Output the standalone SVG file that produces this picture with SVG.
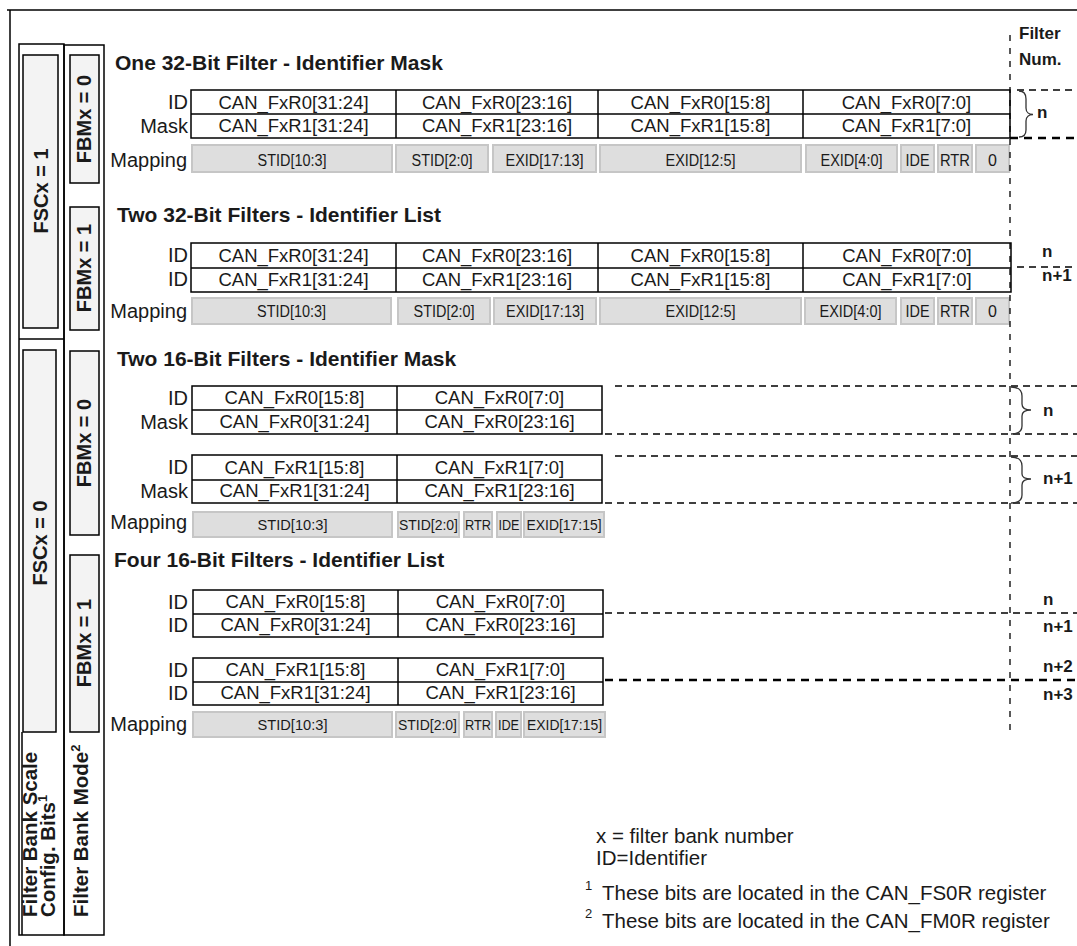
<svg xmlns="http://www.w3.org/2000/svg" width="1077" height="946" viewBox="0 0 1077 946">
<defs>
<style>
text{font-family:"Liberation Sans",Arial,sans-serif;fill:#1a1a1a}
.h{font-size:21px;font-weight:bold}
.lbl{font-size:20px}
.can{font-size:18.5px;text-anchor:middle}
.mc{font-size:16px;text-anchor:middle}
.mc2{font-size:15px;text-anchor:middle}
.num{font-size:17px;font-weight:bold}
.side{font-size:20px;font-weight:bold;text-anchor:middle}
.note{font-size:20.5px}
.sup{font-size:13px}
.frame{fill:none;stroke:#000;stroke-width:1.5}
.box{fill:#f3f3f3;stroke:#000;stroke-width:1.5}
.reg{fill:#fff;stroke:#000;stroke-width:1.5}
.div{stroke:#000;stroke-width:1.5}
.cell{fill:#dedede;stroke:#c6c6c6;stroke-width:2}
.dash{fill:none;stroke:#000;stroke-width:1.3;stroke-dasharray:7 5}
.dashb{fill:none;stroke:#000;stroke-width:2.6;stroke-dasharray:8 6}
.vd{fill:none;stroke:#000;stroke-width:1.3;stroke-dasharray:6 7}
.brace{fill:none;stroke:#333;stroke-width:1.3}
</style>
</defs>

<g id="frame">
<line x1="7" y1="10" x2="1077" y2="10" class="div"/>
<line x1="10" y1="10" x2="10" y2="946" class="div"/>
</g>

<g id="fsc-column">
<rect x="19" y="44" width="45" height="891" class="frame"/>
<rect x="23" y="55" width="35" height="273" class="box"/>
<text class="side" transform="translate(48,191) rotate(-90)">FSCx = 1</text>
<line x1="19" y1="339" x2="64" y2="339" class="div"/>
<rect x="23" y="350" width="33" height="382" class="box"/>
<text class="side" transform="translate(47,543) rotate(-90)">FSCx = 0</text>
<line x1="22" y1="732" x2="22" y2="935" class="div"/>
<text style="font-size:20.5px;font-weight:bold" transform="translate(37,917) rotate(-90)">Filter Bank Scale</text>
<text style="font-size:20.5px;font-weight:bold" transform="translate(55,917) rotate(-90)">Config. Bits<tspan class="sup" dy="-8">1</tspan></text>
</g>

<g id="fbm-column">
<rect x="64" y="45" width="40" height="890" class="frame"/>
<rect x="70" y="55" width="29" height="128" class="box"/>
<text class="side" transform="translate(91,119) rotate(-90)">FBMx = 0</text>
<rect x="70" y="207" width="29" height="123" class="box"/>
<text class="side" transform="translate(91,268) rotate(-90)">FBMx = 1</text>
<rect x="70" y="351" width="29" height="184" class="box"/>
<text class="side" transform="translate(91,443) rotate(-90)">FBMx = 0</text>
<rect x="70" y="555" width="29" height="177" class="box"/>
<text class="side" transform="translate(91,643) rotate(-90)">FBMx = 1</text>
<text style="font-size:20.5px;font-weight:bold" transform="translate(88,917) rotate(-90)">Filter Bank Mode<tspan class="sup" dy="-8">2</tspan></text>
</g>

<g id="filter-num-header">
<text class="num" x="1019" y="39">Filter</text>
<text class="num" x="1019" y="65">Num.</text>
</g>

<g id="sec1">
<text class="h" x="115" y="70">One 32-Bit Filter - Identifier Mask</text>
<text class="lbl" x="188" y="109" text-anchor="end">ID</text>
<text class="lbl" x="188" y="133" text-anchor="end">Mask</text>
<text class="lbl" x="187" y="167" text-anchor="end">Mapping</text>
<rect x="191" y="90" width="819" height="48" class="reg"/>
<line x1="191" y1="114" x2="1010" y2="114" class="div"/>
<line x1="396" y1="90" x2="396" y2="138" class="div"/>
<line x1="598" y1="90" x2="598" y2="138" class="div"/>
<line x1="803" y1="90" x2="803" y2="138" class="div"/>
<text class="can" x="293.5" y="108.5">CAN_FxR0[31:24]</text>
<text class="can" x="497" y="108.5">CAN_FxR0[23:16]</text>
<text class="can" x="700.5" y="108.5">CAN_FxR0[15:8]</text>
<text class="can" x="906.5" y="108.5">CAN_FxR0[7:0]</text>
<text class="can" x="293.5" y="132">CAN_FxR1[31:24]</text>
<text class="can" x="497" y="132">CAN_FxR1[23:16]</text>
<text class="can" x="700.5" y="132">CAN_FxR1[15:8]</text>
<text class="can" x="906.5" y="132">CAN_FxR1[7:0]</text>
<rect x="192" y="145" width="200" height="27" class="cell"/>
<rect x="396" y="145" width="92" height="27" class="cell"/>
<rect x="493" y="145" width="103" height="27" class="cell"/>
<rect x="600" y="145" width="201" height="27" class="cell"/>
<rect x="806" y="145" width="91" height="27" class="cell"/>
<rect x="901" y="145" width="33" height="27" class="cell"/>
<rect x="938" y="145" width="34" height="27" class="cell"/>
<rect x="976" y="145" width="33" height="27" class="cell"/>
<text class="mc" x="292" y="166" textLength="69" lengthAdjust="spacingAndGlyphs">STID[10:3]</text>
<text class="mc" x="442" y="166" textLength="61" lengthAdjust="spacingAndGlyphs">STID[2:0]</text>
<text class="mc" x="544.5" y="166" textLength="78" lengthAdjust="spacingAndGlyphs">EXID[17:13]</text>
<text class="mc" x="700.5" y="166" textLength="70" lengthAdjust="spacingAndGlyphs">EXID[12:5]</text>
<text class="mc" x="851.5" y="166" textLength="62" lengthAdjust="spacingAndGlyphs">EXID[4:0]</text>
<text class="mc" x="917.5" y="166" textLength="24" lengthAdjust="spacingAndGlyphs">IDE</text>
<text class="mc" x="955" y="166" textLength="30" lengthAdjust="spacingAndGlyphs">RTR</text>
<text class="mc" x="992.5" y="166">0</text>
</g>

<g id="sec2">
<text class="h" x="117" y="222">Two 32-Bit Filters - Identifier List</text>
<text class="lbl" x="188" y="262" text-anchor="end">ID</text>
<text class="lbl" x="188" y="286" text-anchor="end">ID</text>
<text class="lbl" x="187" y="318" text-anchor="end">Mapping</text>
<rect x="191" y="243" width="820" height="49" class="reg"/>
<line x1="191" y1="268" x2="1011" y2="268" class="div"/>
<line x1="396" y1="243" x2="396" y2="292" class="div"/>
<line x1="598" y1="243" x2="598" y2="292" class="div"/>
<line x1="803" y1="243" x2="803" y2="292" class="div"/>
<text class="can" x="293.5" y="262">CAN_FxR0[31:24]</text>
<text class="can" x="497" y="262">CAN_FxR0[23:16]</text>
<text class="can" x="700.5" y="262">CAN_FxR0[15:8]</text>
<text class="can" x="907" y="262">CAN_FxR0[7:0]</text>
<text class="can" x="293.5" y="286">CAN_FxR1[31:24]</text>
<text class="can" x="497" y="286">CAN_FxR1[23:16]</text>
<text class="can" x="700.5" y="286">CAN_FxR1[15:8]</text>
<text class="can" x="907" y="286">CAN_FxR1[7:0]</text>
<rect x="192" y="298" width="199" height="26" class="cell"/>
<rect x="398" y="298" width="92" height="26" class="cell"/>
<rect x="494" y="298" width="102" height="26" class="cell"/>
<rect x="600" y="298" width="201" height="26" class="cell"/>
<rect x="805" y="298" width="91" height="26" class="cell"/>
<rect x="901" y="298" width="33" height="26" class="cell"/>
<rect x="938" y="298" width="34" height="26" class="cell"/>
<rect x="976" y="298" width="33" height="26" class="cell"/>
<text class="mc" x="291.5" y="317" textLength="69" lengthAdjust="spacingAndGlyphs">STID[10:3]</text>
<text class="mc" x="444" y="317" textLength="61" lengthAdjust="spacingAndGlyphs">STID[2:0]</text>
<text class="mc" x="545" y="317" textLength="78" lengthAdjust="spacingAndGlyphs">EXID[17:13]</text>
<text class="mc" x="700.5" y="317" textLength="70" lengthAdjust="spacingAndGlyphs">EXID[12:5]</text>
<text class="mc" x="850.5" y="317" textLength="62" lengthAdjust="spacingAndGlyphs">EXID[4:0]</text>
<text class="mc" x="917.5" y="317" textLength="24" lengthAdjust="spacingAndGlyphs">IDE</text>
<text class="mc" x="955" y="317" textLength="30" lengthAdjust="spacingAndGlyphs">RTR</text>
<text class="mc" x="992.5" y="317">0</text>
</g>

<g id="sec3">
<text class="h" x="117" y="366">Two 16-Bit Filters - Identifier Mask</text>
<text class="lbl" x="188" y="405" text-anchor="end">ID</text>
<text class="lbl" x="188" y="429" text-anchor="end">Mask</text>
<text class="lbl" x="188" y="474" text-anchor="end">ID</text>
<text class="lbl" x="188" y="498" text-anchor="end">Mask</text>
<text class="lbl" x="187" y="529" text-anchor="end">Mapping</text>
<rect x="192" y="386" width="410" height="48" class="reg"/>
<line x1="192" y1="410" x2="602" y2="410" class="div"/>
<line x1="397" y1="386" x2="397" y2="434" class="div"/>
<text class="can" x="294.5" y="404">CAN_FxR0[15:8]</text>
<text class="can" x="499.5" y="404">CAN_FxR0[7:0]</text>
<text class="can" x="294.5" y="428">CAN_FxR0[31:24]</text>
<text class="can" x="499.5" y="428">CAN_FxR0[23:16]</text>
<rect x="192" y="455" width="410" height="48" class="reg"/>
<line x1="192" y1="480" x2="602" y2="480" class="div"/>
<line x1="397" y1="455" x2="397" y2="503" class="div"/>
<text class="can" x="294.5" y="474">CAN_FxR1[15:8]</text>
<text class="can" x="499.5" y="474">CAN_FxR1[7:0]</text>
<text class="can" x="294.5" y="497">CAN_FxR1[31:24]</text>
<text class="can" x="499.5" y="497">CAN_FxR1[23:16]</text>
<rect x="193" y="512" width="199" height="25" class="cell"/>
<rect x="398" y="512" width="61" height="25" class="cell"/>
<rect x="464" y="512" width="28" height="25" class="cell"/>
<rect x="497" y="512" width="24" height="25" class="cell"/>
<rect x="524" y="512" width="80" height="25" class="cell"/>
<text class="mc2" x="292.5" y="530" textLength="70" lengthAdjust="spacingAndGlyphs">STID[10:3]</text>
<text class="mc2" x="428.5" y="530" textLength="59" lengthAdjust="spacingAndGlyphs">STID[2:0]</text>
<text class="mc2" x="478" y="530" textLength="26" lengthAdjust="spacingAndGlyphs">RTR</text>
<text class="mc2" x="509" y="530" textLength="21" lengthAdjust="spacingAndGlyphs">IDE</text>
<text class="mc2" x="564" y="530" textLength="75" lengthAdjust="spacingAndGlyphs">EXID[17:15]</text>
</g>

<g id="sec4">
<text class="h" x="114" y="567">Four 16-Bit Filters - Identifier List</text>
<text class="lbl" x="188" y="609" text-anchor="end">ID</text>
<text class="lbl" x="188" y="632" text-anchor="end">ID</text>
<text class="lbl" x="188" y="677" text-anchor="end">ID</text>
<text class="lbl" x="188" y="700" text-anchor="end">ID</text>
<text class="lbl" x="187" y="731" text-anchor="end">Mapping</text>
<rect x="193" y="590" width="410" height="47" class="reg"/>
<line x1="193" y1="614" x2="603" y2="614" class="div"/>
<line x1="398" y1="590" x2="398" y2="637" class="div"/>
<text class="can" x="295.5" y="608">CAN_FxR0[15:8]</text>
<text class="can" x="500.5" y="608">CAN_FxR0[7:0]</text>
<text class="can" x="295.5" y="631">CAN_FxR0[31:24]</text>
<text class="can" x="500.5" y="631">CAN_FxR0[23:16]</text>
<rect x="193" y="658" width="410" height="47" class="reg"/>
<line x1="193" y1="682" x2="603" y2="682" class="div"/>
<line x1="398" y1="658" x2="398" y2="705" class="div"/>
<text class="can" x="295.5" y="676">CAN_FxR1[15:8]</text>
<text class="can" x="500.5" y="676">CAN_FxR1[7:0]</text>
<text class="can" x="295.5" y="699">CAN_FxR1[31:24]</text>
<text class="can" x="500.5" y="699">CAN_FxR1[23:16]</text>
<rect x="193" y="712" width="199" height="25" class="cell"/>
<rect x="396" y="712" width="63" height="25" class="cell"/>
<rect x="464" y="712" width="28" height="25" class="cell"/>
<rect x="496" y="712" width="25" height="25" class="cell"/>
<rect x="524" y="712" width="81" height="25" class="cell"/>
<text class="mc2" x="292.5" y="730" textLength="70" lengthAdjust="spacingAndGlyphs">STID[10:3]</text>
<text class="mc2" x="427.5" y="730" textLength="59" lengthAdjust="spacingAndGlyphs">STID[2:0]</text>
<text class="mc2" x="478" y="730" textLength="26" lengthAdjust="spacingAndGlyphs">RTR</text>
<text class="mc2" x="508.5" y="730" textLength="21" lengthAdjust="spacingAndGlyphs">IDE</text>
<text class="mc2" x="564.5" y="730" textLength="75" lengthAdjust="spacingAndGlyphs">EXID[17:15]</text>
</g>

<g id="connectors">
<line x1="1010" y1="35" x2="1010" y2="730" class="vd"/>
<line x1="1017" y1="90" x2="1077" y2="90" class="dash"/>
<line x1="1010" y1="138" x2="1077" y2="138" class="dashb"/>
<path d="M1019,91 C1024,91 1026,94 1026,99 L1026,108 C1026,112 1029,114.5 1033,114.5 C1029,114.5 1026,117 1026,121 L1026,130 C1026,135 1024,137 1019,137" class="brace"/>
<line x1="1017" y1="267" x2="1072" y2="267" class="dash"/>
<line x1="615" y1="386" x2="1077" y2="386" class="dash"/>
<line x1="605" y1="434" x2="1077" y2="434" class="dash"/>
<line x1="615" y1="456" x2="1077" y2="456" class="dash"/>
<line x1="605" y1="503" x2="1077" y2="503" class="dash"/>
<path d="M1011,387 C1019,387 1022,390 1022,396 L1022,404 C1022,408 1025,410 1031,410 C1025,410 1022,412 1022,416 L1022,426 C1022,431 1019,434 1011,434" class="brace"/>
<path d="M1011,457 C1019,457 1022,460 1022,466 L1022,474 C1022,477 1025,479 1031,479 C1025,479 1022,481 1022,485 L1022,495 C1022,500 1019,503 1011,503" class="brace"/>
<line x1="605" y1="613" x2="1077" y2="613" class="dash"/>
<line x1="605" y1="680" x2="1077" y2="680" class="dashb"/>
</g>

<g id="filter-numbers">
<text class="num" x="1037" y="118">n</text>
<text class="num" x="1042" y="257">n</text>
<text class="num" x="1042" y="281">n+1</text>
<text class="num" x="1043" y="416">n</text>
<text class="num" x="1043" y="484">n+1</text>
<text class="num" x="1043" y="605">n</text>
<text class="num" x="1043" y="632">n+1</text>
<text class="num" x="1043" y="672">n+2</text>
<text class="num" x="1043" y="700">n+3</text>
</g>

<g id="notes">
<text class="note" x="596" y="843">x = filter bank number</text>
<text class="note" x="596" y="865">ID=Identifier</text>
<text class="sup" x="585" y="890">1</text>
<text class="note" x="602" y="900">These bits are located in the CAN_FS0R register</text>
<text class="sup" x="585" y="918">2</text>
<text class="note" x="602" y="928">These bits are located in the CAN_FM0R register</text>
</g>
</svg>
